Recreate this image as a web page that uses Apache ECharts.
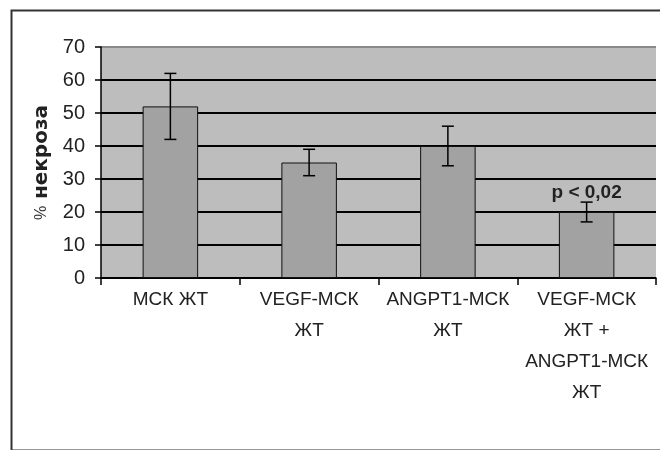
<!DOCTYPE html>
<html><head><meta charset="utf-8">
<script src="https://cdn.jsdelivr.net/npm/echarts@6/dist/echarts.min.js"></script>
<style>html,body{margin:0;padding:0;background:#fff}#c{width:660px;height:450px}</style>
</head><body><div id="c"></div>
<script>
const categories = ['МСК ЖТ', 'VEGF-МСК\nЖТ', 'ANGPT1-МСК\nЖТ', 'VEGF-МСК\nЖТ +\nANGPT1-МСК\nЖТ'];
const necrosis = [52, 35, 40, 20];
const errors = [10, 4, 6, 3];
const notes = ['', '', '', 'p < 0,02'];
const yMin = 0, yMax = 70, yInterval = 10;
const yTitlePct = '%';
const yTitleWord = 'некроза';

const errData = categories.map((c, i) => [i, necrosis[i] - errors[i], necrosis[i] + errors[i]]);
const FONT = "'Liberation Sans Narrow', 'Arial Narrow', 'Liberation Sans', Arial, sans-serif";

const chart = echarts.init(document.getElementById('c'), null, {renderer: 'canvas'});
chart.setOption({
  animation: false,
  backgroundColor: '#fff',
  graphic: [{
    type: 'rect', left: 9, top: 8, shape: {width: 700, height: 440},
    style: {fill: 'none', stroke: '#333', lineWidth: 2}, z: -1
  }],
  grid: {left: 101, right: 4, top: 47, bottom: 172, show: true, backgroundColor: '#bdbdbd', borderWidth: 0},
  xAxis: {
    type: 'category', data: categories,
    axisLine: {lineStyle: {color: '#000', width: 1.5}},
    axisTick: {show: true, alignWithLabel: false, length: 7, lineStyle: {color: '#000', width: 1.5}},
    axisLabel: {interval: 0, color: '#222', fontFamily: FONT, fontSize: 19, lineHeight: 31, margin: 6}
  },
  yAxis: {
    type: 'value', min: yMin, max: yMax, interval: yInterval,
    name: '{a|' + yTitlePct + '}  {b|' + yTitleWord + '}',
    nameLocation: 'middle', nameRotate: 90, nameGap: 48,
    nameTextStyle: {
      rich: {
        a: {fontFamily: 'Liberation Sans', fontSize: 16, color: '#333'},
        b: {fontFamily: 'DejaVu Sans', fontWeight: 'bold', fontSize: 20, color: '#222'}
      }
    },
    axisLine: {show: true, lineStyle: {color: '#000', width: 1.5}},
    axisTick: {show: true, length: 6, lineStyle: {color: '#000', width: 1.5}},
    axisLabel: {color: '#222', fontFamily: FONT, fontSize: 20, margin: 16},
    splitLine: {show: true, lineStyle: {color: ['#000', '#000', '#000', '#000', '#000', '#000', '#000', '#8a8a8a'], width: 2}}
  },
  series: [{
    type: 'bar', data: necrosis, barCategoryGap: '60%',
    itemStyle: {color: '#a2a2a2', borderColor: '#111', borderWidth: 1},
    label: {
      show: true, position: 'top', distance: 10,
      formatter: p => notes[p.dataIndex],
      fontFamily: 'Liberation Sans', fontWeight: 'bold', fontSize: 19, color: '#222'
    },
    z: 2
  }, {
    type: 'custom', data: errData, z: 3,
    renderItem: function (params, api) {
      const x = api.value(0);
      const lo = api.coord([x, api.value(1)]);
      const hi = api.coord([x, api.value(2)]);
      const w = 6;
      const st = {stroke: '#000', lineWidth: 1.5};
      return {type: 'group', children: [
        {type: 'line', shape: {x1: lo[0], y1: lo[1], x2: hi[0], y2: hi[1]}, style: st},
        {type: 'line', shape: {x1: hi[0] - w, y1: hi[1], x2: hi[0] + w, y2: hi[1]}, style: st},
        {type: 'line', shape: {x1: lo[0] - w, y1: lo[1], x2: lo[0] + w, y2: lo[1]}, style: st}
      ]};
    }
  }]
});
</script></body></html>
